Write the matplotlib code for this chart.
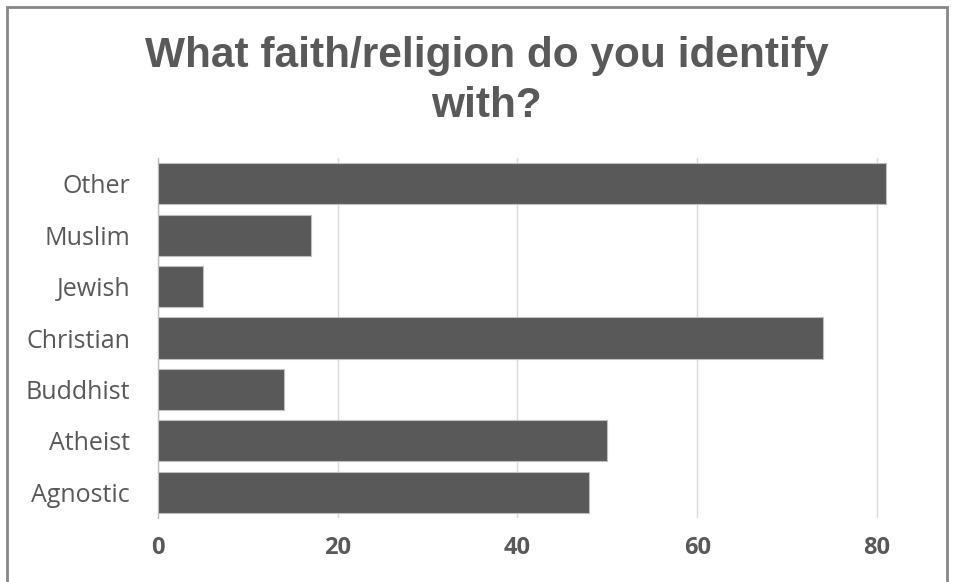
"""Horizontal bar chart: faith/religion survey responses."""
import matplotlib

matplotlib.use("Agg")
import matplotlib.pyplot as plt
from matplotlib.patches import Rectangle

categories = ["Agnostic", "Atheist", "Buddhist", "Christian", "Jewish", "Muslim", "Other"]
counts = [48, 50, 14, 74, 5, 17, 81]
x_ticks = [0, 20, 40, 60, 80]

TEXT = "#595959"
BAR = "#595959"
W, H, DPI = 954, 582, 100

fig = plt.figure(figsize=(W / DPI, H / DPI), dpi=DPI)
# plot area in pixel terms: x 158..930, y 158..518 (from the top)
ax = fig.add_axes([158 / W, 1 - 518 / H, (930 - 158) / W, (518 - 158) / H])

ax.barh(categories, counts, height=0.8, color=BAR, edgecolor="#bfbfbf", linewidth=0.8, zorder=3)
ax.set_ylim(-0.5, len(categories) - 0.5)
ax.set_xlim(0, 85.9)
ax.set_xticks(x_ticks)
ax.grid(axis="x", color="#d9d9d9", linewidth=1, zorder=0)

for side in ("top", "right", "bottom"):
    ax.spines[side].set_visible(False)
ax.spines["left"].set_color("#bfbfbf")
ax.spines["left"].set_linewidth(1)

ax.tick_params(axis="y", length=0, pad=20, labelsize=18, labelcolor=TEXT)
ax.tick_params(axis="x", length=0, pad=13, labelcolor=TEXT)
for lbl in ax.get_yticklabels():
    lbl.set_fontfamily("Open Sans")
for lbl in ax.get_xticklabels():
    lbl.set_fontfamily("Open Sans")
    lbl.set_fontweight("bold")
    lbl.set_fontsize(17)

fig.text(487 / W, 1 - 81 / H, "What faith/religion do you identify\nwith?",
         ha="center", va="center", fontsize=30.5, fontweight="bold",
         color=TEXT, family="Liberation Sans", linespacing=1.35)

# outer chart frame (bottom edge is cropped off in the reference)
fig.patches.append(Rectangle((7 / W, -0.01), (947 - 7) / W, 1 - 7 / H - (-0.01),
                             transform=fig.transFigure, fill=False,
                             edgecolor="#878787", linewidth=2))

fig.savefig("out.png", dpi=DPI)
